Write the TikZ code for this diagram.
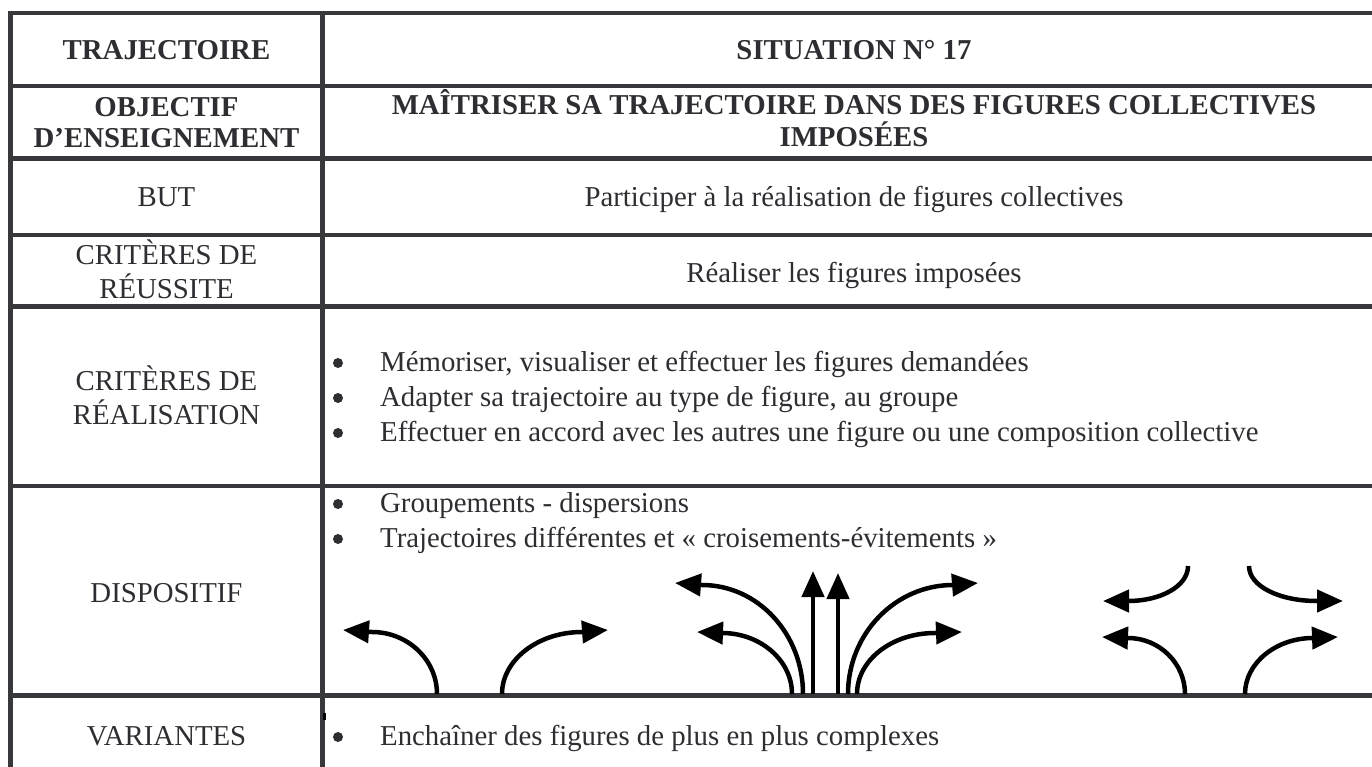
\documentclass[tikz,border=0pt]{standalone}
\usepackage{fontspec}
\setmainfont{Liberation Serif}
\usetikzlibrary{arrows.meta}
\definecolor{rule}{RGB}{55,55,60}
\definecolor{ink}{RGB}{45,45,50}
\begin{document}
\begin{tikzpicture}[x=1pt,y=-1pt,
  grid/.style={draw=rule,line width=4.5pt},
  txt/.style={text=ink,font=\fontsize{28.8}{33}\selectfont,inner sep=0pt,anchor=base},
  btxt/.style={txt,font=\fontsize{28.8}{33}\selectfont\bfseries},
  item/.style={txt,anchor=base west},
  bul/.style={circle,fill=ink,inner sep=0pt,minimum size=10pt},
  arr/.style={draw=black,line width=4.5pt,-{Triangle[length=26pt,width=22pt]}}]
\useasboundingbox (0,0) rectangle (1372,767);
% table rules
\draw[grid] (10.5,767) -- (10.5,13) -- (1372,13);
\foreach \yy in {86,158.5,235,306.5,486,695.5}
  \draw[grid] (10.5,\yy) -- (1372,\yy);
\draw[grid] (322.5,13) -- (322.5,767);
\fill[black] (323,713) rectangle (326,720);
% header
\node[btxt] (t1) at (166.5,60) {TRAJECTOIRE};
\node[btxt] (t2) at (854,60) {SITUATION N° 17};
\node[btxt] (o1) at (166.5,117) {OBJECTIF};
\node[btxt] (o2) at (166.5,148) {D’ENSEIGNEMENT};
\node[btxt] (m1) at (854,115) {MAÎTRISER SA TRAJECTOIRE DANS DES FIGURES COLLECTIVES};
\node[btxt] (m2) at (854,147) {IMPOSÉES};
% rows
\node[txt] (b1) at (166.5,207) {BUT};
\node[txt] (b2) at (854,207) {Participer à la réalisation de figures collectives};
\node[txt] (r1) at (166.5,264) {CRITÈRES DE};
\node[txt] (r2) at (166.5,298) {RÉUSSITE};
\node[txt] (r3) at (854,282) {Réaliser les figures imposées};
\node[txt] (c1) at (166.5,390) {CRITÈRES DE};
\node[txt] (c2) at (166.5,424) {RÉALISATION};
\node[bul] (cb1) at (338,363) {};
\node[item] (ci1) at (380,371) {Mémoriser, visualiser et effectuer les figures demandées};
\node[bul] (cb2) at (338,398) {};
\node[item] (ci2) at (380,406) {Adapter sa trajectoire au type de figure, au groupe};
\node[bul] (cb3) at (338,433) {};
\node[item] (ci3) at (380,441) {Effectuer en accord avec les autres une figure ou une composition collective};
\node[txt] (d1) at (166.5,602) {DISPOSITIF};
\node[bul] (db1) at (338,504) {};
\node[item] (di1) at (380,512) {Groupements - dispersions};
\node[bul] (db2) at (338,539) {};
\node[item] (di2) at (380,547) {Trajectoires différentes et « croisements-évitements »};
\node[txt] (v1) at (166.5,745) {VARIANTES};
\node[bul] (vb1) at (338,737) {};
\node[item] (vi1) at (380,745) {Enchaîner des figures de plus en plus complexes};
% arrows group 1
\draw[arr] (437,694) .. controls (437,660) and (408,632) .. (372,632) -- (343,630);
\draw[arr] (502,694) .. controls (502,660) and (538,632) .. (582,632) -- (608,630);
% arrows group 2
\draw[arr] (803,694) .. controls (803,634) and (758,585) .. (702,585) -- (675,583);
\draw[arr] (792,694) .. controls (792,660) and (760,633) .. (722,633) -- (697,632);
\draw[arr] (813,694) -- (813,571);
\draw[arr] (838,694) -- (838,573);
\draw[arr] (848,694) .. controls (848,634) and (895,585) .. (953,585) -- (978,583);
\draw[arr] (857,694) .. controls (857,660) and (892,633) .. (935,633) -- (962,632);
% arrows group 3
\draw[arr] (1185,694) .. controls (1185,663) and (1159,638) .. (1128,638) -- (1102,637);
\draw[arr] (1245,694) .. controls (1245,663) and (1276,638) .. (1313,638) -- (1338,637);
\draw[arr] (1188,566) .. controls (1188,586) and (1161,601) .. (1128,601) -- (1103,601);
\draw[arr] (1249,566) .. controls (1249,586) and (1279,601) .. (1317,601) -- (1343,601);
\end{tikzpicture}
\end{document}
